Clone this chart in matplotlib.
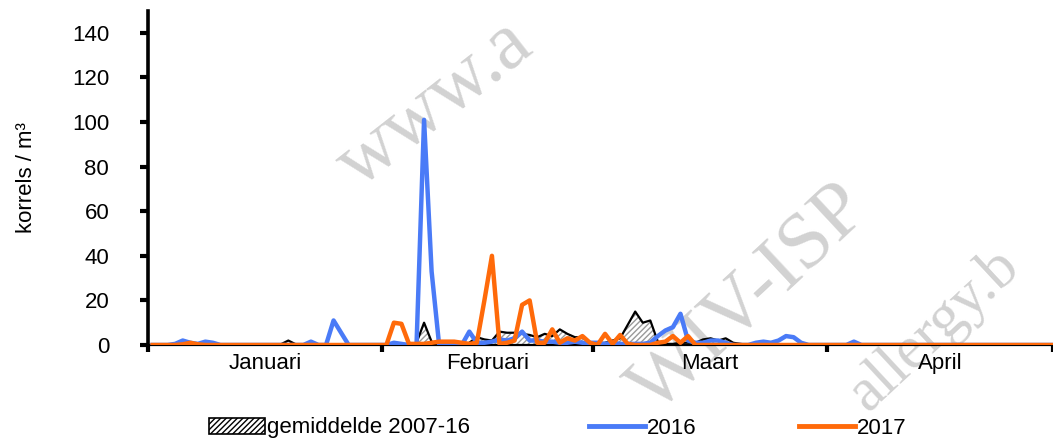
import matplotlib
matplotlib.use("Agg")
import matplotlib.pyplot as plt
import numpy as np
from matplotlib.patches import Patch
from matplotlib.lines import Line2D

plt.rcParams['font.family'] = ['Liberation Sans', 'DejaVu Sans']

# daily values, day 0 = 1 januari
mean_idx = [17, 18, 19, 35, 36, 37, 38, 42, 43, 44, 45, 46, 47, 48, 49, 50, 51, 52, 53, 54,
            55, 56, 57, 58, 59, 60, 61, 62, 63, 64, 65, 66, 67, 68, 69, 70, 71, 72, 73, 74,
            75, 76, 77, 78]
mean_val = [0.3, 2, 0.3, 1, 10, 1.5, 0.5, 1, 3.5, 2.5, 2, 6, 5.5, 5.5, 5, 4.5, 3.5, 5, 4, 7,
            5, 3.5, 3.5, 1, 0.5, 1, 2, 3, 9, 15, 10, 11, 1.5, 0.5, 0.5, 1, 1, 1, 2.5, 3,
            2, 3, 1, 0.5]

y2016_idx = [3, 4, 5, 6, 7, 8, 9, 20, 21, 22, 23, 24, 25, 26, 31, 32, 33, 35, 36, 37, 38,
             41, 42, 43, 44, 45, 46, 47, 48, 49, 50, 51, 52, 53, 54, 55, 56, 57, 58, 59, 60,
             61, 62, 63, 64, 65, 66, 67, 68, 69, 70, 71, 72, 73, 74, 75, 76, 77, 80, 81, 82,
             83, 84, 85, 86, 87, 92, 93, 94]
y2016_val = [0.5, 2, 1, 0.5, 1.5, 1, 0, 0, 1.5, 0, 0, 11, 5.5, 0, 0, 1, 0.5, 0, 101, 33, 0,
             0, 6, 1, 1, 1.5, 2.5, 2, 3, 6, 2, 2, 1.5, 1.5, 1, 1, 1.5, 1, 1, 1, 0.5,
             1, 0.5, 0.5, 0.5, 0.5, 1, 4, 6.5, 8, 14, 2, 1, 1, 2, 2, 1, 0, 1, 1.5, 1,
             2, 4, 3.5, 1, 0, 0, 1.5, 0]

y2017_idx = [4, 5, 6, 31, 32, 33, 34, 35, 36, 37, 38, 39, 40, 41, 42, 43, 44, 45, 46, 47, 48,
             49, 50, 51, 52, 53, 54, 55, 56, 57, 58, 59, 60, 61, 62, 63, 64, 66, 67, 68, 69,
             70, 71, 72]
y2017_val = [0.3, 1, 0.3, 0, 10, 9.5, 0.5, 0.5, 0.5, 1, 1.5, 1.5, 1.5, 1, 0.5, 1, 20, 40, 0.5, 1, 2,
             18, 20, 1, 1, 7, 1, 3, 2, 4, 1, 0, 5, 0.5, 4.5, 0.5, 0, 0, 1, 1.5, 4,
             1, 4, 0]

days = np.arange(0, 121)
mean_y = np.zeros(len(days))
mean_y[mean_idx] = mean_val
y2016 = np.zeros(len(days))
y2016[y2016_idx] = y2016_val
y2017 = np.zeros(len(days))
y2017[y2017_idx] = y2017_val

months = ["Januari", "Februari", "Maart", "April"]
month_starts = [0, 31, 59, 90, 120]
month_mids = [15.5, 45, 74.5, 105]

W, H = 1053, 441
fig = plt.figure(figsize=(W / 100, H / 100), dpi=100)
ax = fig.add_axes([0.1406, 0.2177, 0.8594, 0.7583])

# watermark, kept behind the chart
wm = dict(color="#d2d2d2", family="Liberation Serif", ha="center", va="center", zorder=-1)
fig.text(435 / W, 1 - 105 / H, "www.a", rotation=38, fontsize=58, **wm)
fig.text(750 / W, 1 - 300 / H, "WIV-ISP", rotation=43, fontsize=58, **wm)
fig.text(935 / W, 1 - 330 / H, "allergy.b", rotation=43, fontsize=44, **wm)

x = days + 0.6  # points sit slightly right of the day boundary
ax.fill_between(x, mean_y, 0, facecolor="white", edgecolor="#9a9a9a",
                hatch="//////", linewidth=0, zorder=2)
ax.plot(x, mean_y, color="black", lw=1.6, zorder=3)
ax.plot(x, y2016, color="#4a7bf7", lw=3.2, zorder=4, solid_joinstyle="round")
ax.plot(x, y2017, color="#ff6a0a", lw=3.2, zorder=5, solid_joinstyle="round")

ax.set_xlim(0, 118.4)
ax.set_ylim(0, 150)
ax.set_yticks(range(0, 141, 20))
ax.set_xticks(month_starts)
ax.set_xticklabels([])
ax.set_xticks(month_mids, minor=True)
ax.set_xticklabels(months, minor=True)
ax.tick_params(axis="x", which="minor", length=0, pad=6, labelsize=16)
ax.tick_params(axis="x", which="major", direction="out", length=5, width=3)
ax.tick_params(axis="y", direction="out", length=6, width=3, labelsize=16, pad=22)

for s in ["top", "right"]:
    ax.spines[s].set_visible(False)
ax.spines["left"].set_linewidth(2.6)
ax.spines["bottom"].set_linewidth(1.6)
ax.set_ylabel("korrels / m³", fontsize=16, labelpad=25)
ax.patch.set_alpha(0)

# legend, one entry each so they can be spaced like the original
handles = [Patch(facecolor="white", edgecolor="black", hatch="//////", lw=1.2),
           Line2D([], [], color="#4a7bf7", lw=3.5),
           Line2D([], [], color="#ff6a0a", lw=3.5)]
labels = ["gemiddelde 2007-16", "2016", "2017"]
starts = [209, 589, 799]
for h, lab, xs in zip(handles, labels, starts):
    fig.legend([h], [lab], loc="center left", bbox_to_anchor=(xs / W, 1 - 428 / H),
               frameon=False, fontsize=16, handlelength=2.5, handletextpad=0.1,
               handleheight=0.7, borderpad=0, borderaxespad=0)

fig.savefig("out.png", dpi=100)
